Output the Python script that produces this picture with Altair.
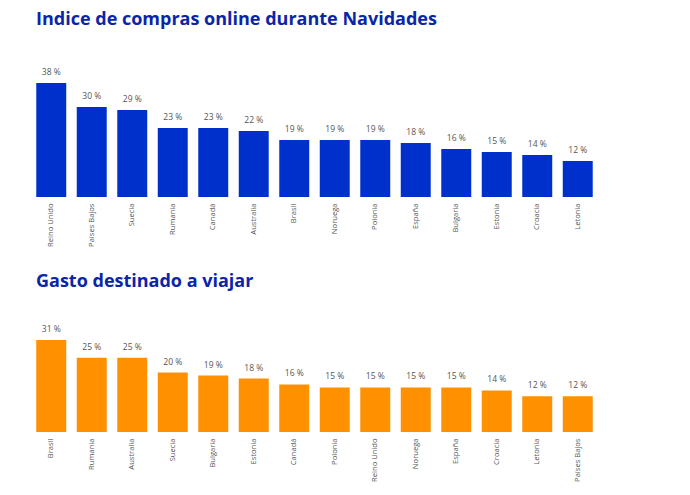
import altair as alt
import pandas as pd

paises_compras = ["Reino Unido", "Países Bajos", "Suecia", "Rumanía", "Canadá", "Australia",
                  "Brasil", "Noruega", "Polonia", "España", "Bulgaria", "Estonia", "Croacia", "Letonia"]
valores_compras = [38, 30, 29, 23, 23, 22, 19, 19, 19, 18, 16, 15, 14, 12]

paises_viajar = ["Brasil", "Rumanía", "Australia", "Suecia", "Bulgaria", "Estonia", "Canadá",
                 "Polonia", "Reino Unido", "Noruega", "España", "Croacia", "Letonia", "Países Bajos"]
valores_viajar = [31, 25, 25, 20, 19, 18, 16, 15, 15, 15, 15, 14, 12, 12]

TITLE_COLOR = "#0B25A8"
FONT = "Open Sans"


def panel(paises, valores, color, titulo, ymax, height, offset):
    df = pd.DataFrame({"pais": paises, "valor": valores})
    df["etiqueta"] = df["valor"].astype(str) + " %"
    x = alt.X("pais:N", sort=paises, title=None,
              scale=alt.Scale(paddingInner=0.26, paddingOuter=0.13),
              axis=alt.Axis(labelAngle=-90, labelAlign="right", labelBaseline="middle",
                            domain=False, ticks=False, labelPadding=6,
                            labelFontSize=7.6, labelColor="#555555", labelFont=FONT))
    y = alt.Y("valor:Q", title=None, scale=alt.Scale(domain=[0, ymax]), axis=None)
    base = alt.Chart(df).encode(x=x, y=y)
    bars = base.mark_bar(color=color)
    text = base.mark_text(dy=-11, fontSize=8.5, color="#555555", font=FONT).encode(text="etiqueta:N")
    return (bars + text).properties(
        width=567, height=height,
        title=alt.TitleParams(titulo, anchor="start", fontSize=18, font=FONT,
                              fontWeight="bold", color=TITLE_COLOR, offset=offset, dx=5),
    )


top = panel(paises_compras, valores_compras, "#0030CC",
            "Indice de compras online durante Navidades", 40, 120, 39)
bottom = panel(paises_viajar, valores_viajar, "#FF9000",
               "Gasto destinado a viajar", 33, 98, 34)

chart = alt.vconcat(top, bottom, spacing=25).properties(
    padding={"left": 23, "top": 3, "right": 5, "bottom": 5}
).configure_view(stroke=None)

chart.save("out.html", embed_options={"renderer": "svg", "actions": False})
